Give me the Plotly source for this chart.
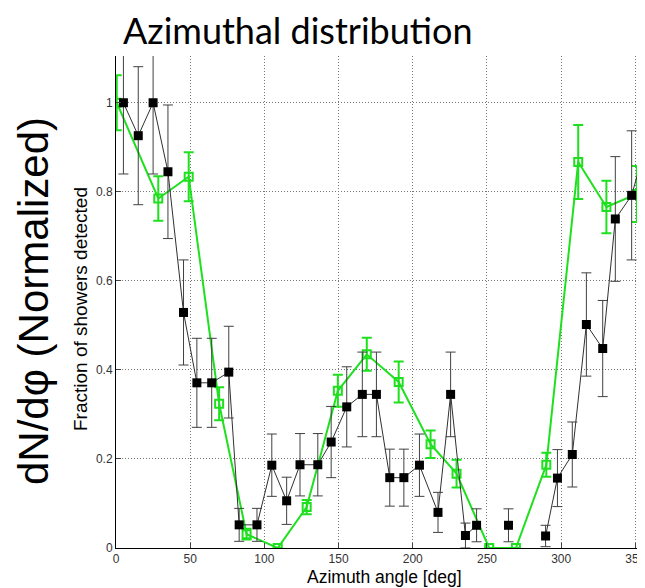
import plotly.graph_objects as go

# Black series (filled squares); None marks gaps in the connecting line
black_x = [5, 15, 25, 35, 45.5, 54.5, 64.5, 76, 83, 95, 105, 115, 124, 136, 145,
           155.5, 166, 175.5, 184.5, 194, 204.5, 217, 225.5, 235.5, 243, 254,
           264.5, 277, 289.5, 297.5, 307.5, 317, 328, 336.5, 347.5, 356.5]
black_y = [1.0, 0.926, 1.0, 0.845, 0.529, 0.371, 0.371, 0.395, 0.052, 0.052,
           0.186, 0.106, 0.187, 0.187, 0.238, 0.317, 0.345, 0.345, 0.158, 0.158,
           0.186, 0.08, 0.345, 0.028, 0.051, None, 0.051, None, 0.027, 0.157,
           0.21, 0.502, 0.448, 0.739, 0.792, 0.899]
black_err = [0.16, 0.155, 0.16, 0.15, 0.118, 0.1, 0.1, 0.103, 0.037, 0.037,
             0.07, 0.053, 0.07, 0.07, 0.08, 0.09, 0.095, 0.095, 0.064, 0.064,
             0.07, 0.045, 0.095, 0.028, 0.037, None, 0.037, None, 0.024, 0.064,
             0.073, 0.116, 0.108, 0.14, 0.145, 0.15]

# Green series (open squares)
green_x = [0.5, 28.5, 49, 69.5, 88, 109, 128.5, 149.5, 169, 190.5, 212, 229.5,
           251.5, 269.5, 290, 311.5, 330.5, 351]
green_y = [1.0, 0.785, 0.834, 0.324, 0.031, 0.0, 0.092, 0.353, 0.435, 0.373,
           0.233, 0.167, 0.0, 0.0, 0.187, 0.867, 0.766, 0.795]
green_err = [0.062, 0.05, 0.055, 0.037, 0.012, 0.0, 0.016, 0.036, 0.037, 0.046,
             0.031, 0.031, 0.0, 0.0, 0.027, 0.083, 0.059, 0.063]

x_ticks = [0, 50, 100, 150, 200, 250, 300, 350]
y_ticks = [0, 0.2, 0.4, 0.6, 0.8, 1]
y_tick_text = ["0", "0.2", "0.4", "0.6", "0.8", "1"]

GREEN = "#1fe01f"

# page body has an 8px margin: the figure is drawn at (8, 8)
OFF = 8
W, H = 645 - OFF, 588 - OFF
L, T, B = 116 - OFF, 56 - OFF, 40
PW, PH = W - L, H - T - B


def px(xp):
    return (xp - OFF - L) / PW


def py(yp):
    return (H - B - (yp - OFF)) / PH


fig = go.Figure()
fig.add_trace(go.Scatter(
    x=green_x, y=green_y, mode="lines+markers",
    line=dict(color=GREEN, width=2),
    marker=dict(symbol="square-open", size=8, color=GREEN, line=dict(width=2, color=GREEN)),
    error_y=dict(type="data", array=green_err, color=GREEN, thickness=2, width=5),
    showlegend=False,
))
fig.add_trace(go.Scatter(
    x=black_x, y=black_y, mode="lines+markers", connectgaps=False,
    line=dict(color="#303030", width=1),
    marker=dict(symbol="square", size=9, color="black"),
    error_y=dict(type="data", array=black_err, color="#404040", thickness=1, width=5),
    showlegend=False,
))

grid = dict(showgrid=True, gridcolor="#777777", griddash="1px,2px", gridwidth=1)

fig.update_layout(
    width=W, height=H,
    margin=dict(l=L, r=0, t=T, b=B, autoexpand=False),
    paper_bgcolor="white", plot_bgcolor="white",
    font=dict(family="Liberation Sans, Arial, sans-serif", color="#222222", size=12),
    xaxis=dict(
        range=[0, 356.5], tickvals=x_ticks, ticks="inside", ticklen=5,
        showline=True, linecolor="black", linewidth=1, ticklabeloverflow="allow",
        zeroline=False, tickfont=dict(size=12, color="#333333"), **grid,
    ),
    yaxis=dict(
        range=[0, 1.105], tickvals=y_ticks, ticktext=y_tick_text, ticks="inside", ticklen=5,
        showline=True, linecolor="black", linewidth=1,
        zeroline=False, tickfont=dict(size=12, color="#333333"), **grid,
    ),
    annotations=[
        dict(text="Azimuthal distribution", xref="paper", yref="paper",
             x=px(298), y=py(30), xanchor="center", yanchor="middle",
             showarrow=False, font=dict(family="Lato, sans-serif", size=36, color="black")),
        dict(text="dN/dφ (Normalized)", xref="paper", yref="paper",
             x=px(33), y=py(301), xanchor="center", yanchor="middle",
             textangle=-90, showarrow=False,
             font=dict(family="Liberation Sans, Arial, sans-serif", size=42, color="black")),
        dict(text="Fraction of showers detected", xref="paper", yref="paper",
             x=px(80), y=py(309), xanchor="center", yanchor="middle",
             textangle=-90, showarrow=False,
             font=dict(family="Liberation Sans, Arial, sans-serif", size=19, color="black")),
        dict(text="Azimuth angle [deg]", xref="paper", yref="paper",
             x=px(384), y=py(577), xanchor="center", yanchor="middle",
             showarrow=False,
             font=dict(family="Liberation Sans, Arial, sans-serif", size=17.5, color="black")),
    ],
)

fig.write_html("out.html")
